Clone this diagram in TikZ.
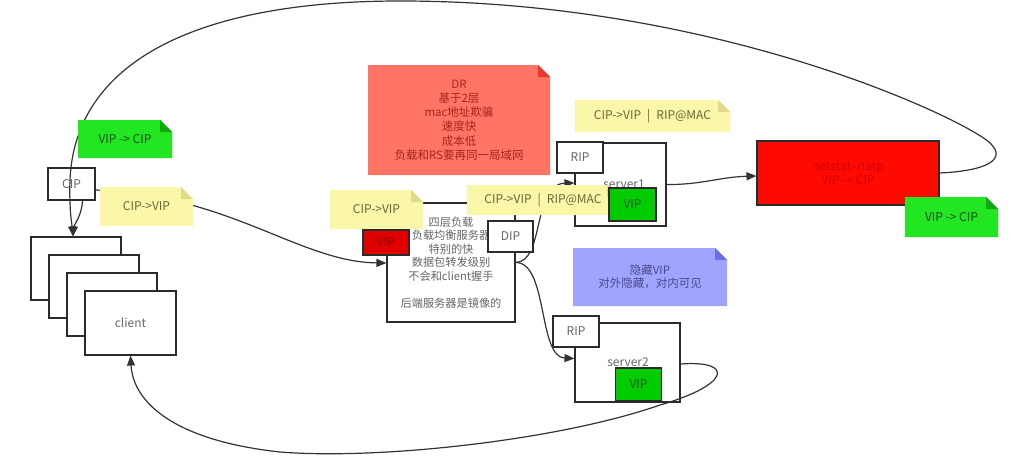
\documentclass[tikz,border=0pt]{standalone}
\usepackage{fontspec}
\setmainfont{Noto Sans CJK SC}
\usetikzlibrary{arrows.meta}

\definecolor{linecol}{HTML}{333333}
\definecolor{boxline}{HTML}{2B2B2B}
\definecolor{labelgray}{HTML}{666666}
\definecolor{notey}{HTML}{FAF8A8}
\definecolor{foldy}{HTML}{DEDA86}
\definecolor{texty}{HTML}{6A6538}
\definecolor{noteg}{HTML}{22E622}
\definecolor{foldg}{HTML}{12A812}
\definecolor{textg}{HTML}{1D4D1D}
\definecolor{drfill}{HTML}{FF7465}
\definecolor{drfold}{HTML}{E23B2C}
\definecolor{drtext}{HTML}{A4261B}
\definecolor{notep}{HTML}{A0A4FF}
\definecolor{foldp}{HTML}{6B6FE6}
\definecolor{textp}{HTML}{4A4A8A}
\definecolor{vipg}{HTML}{00CC00}
\definecolor{vipgtext}{HTML}{1A5A1A}
\definecolor{redbox}{HTML}{FF0A00}
\definecolor{redtext}{HTML}{D00000}
\definecolor{lbvip}{HTML}{E00000}
\definecolor{lbviptext}{HTML}{8A0000}

\begin{document}
\begin{tikzpicture}[x=1pt,y=-1pt,
  lbl/.style={font=\fontsize{12}{14}\selectfont},
  cjk/.style={font=\fontsize{11.5}{14.2}\selectfont},
  box/.style={lbl, draw=boxline, line width=1.1pt, fill=white, inner sep=0pt, text=labelgray},
  tag/.style={box, minimum width=46pt, minimum height=31pt},
  vip/.style={lbl, draw=boxline, line width=1.1pt, fill=vipg, text=vipgtext, inner sep=0pt,
              minimum width=46pt, minimum height=33pt},
  note/.style 2 args={lbl, inner sep=0pt, align=center, path picture={
     \fill[#1] (path picture bounding box.south west) -- (path picture bounding box.north west)
        -- ([xshift=-12pt]path picture bounding box.north east)
        -- ([yshift=-12pt]path picture bounding box.north east)
        -- (path picture bounding box.south east) -- cycle;
     \fill[#2] ([xshift=-12pt]path picture bounding box.north east)
        -- ([xshift=-12pt,yshift=-12pt]path picture bounding box.north east)
        -- ([yshift=-12pt]path picture bounding box.north east) -- cycle;}},
  ynote/.style={note={notey}{foldy}, text=texty},
  gnote/.style={note={noteg}{foldg}, text=textg},
  link/.style={draw=linecol, line width=1.2pt, -{Triangle[length=10pt,width=8pt]}}
]
\useasboundingbox (0,0) rectangle (1031,463);

% client stack
\node[box, minimum width=90pt, minimum height=63pt] (c1) at (76,268.5) {};
\node[box, minimum width=90pt, minimum height=63pt] (c2) at (94,286.5) {};
\node[box, minimum width=90pt, minimum height=63pt] (c3) at (112,304.5) {};
\node[box, minimum width=91pt, minimum height=64pt] (c4) at (130.5,323) {client};

% load balancer, real servers, connection table
\node[box, cjk, minimum width=128pt, minimum height=119pt, align=center, text=labelgray,
      font=\fontsize{11.2}{13.6}\selectfont] (lb) at (451,262.5)
      {\\[-4pt]四层负载\\负载均衡服务器\\特别的快\\数据包转发级别\\不会和client握手\\[13.6pt]后端服务器是镜像的};
\node[box, minimum width=91pt, minimum height=83pt] (s1) at (620.5,184.5) {};
\node[lbl, text=labelgray] (s1l) at (624,184) {server1};
\node[box, minimum width=105pt, minimum height=79pt] (s2) at (627.5,362.5) {};
\node[lbl, text=labelgray] (s2l) at (628,362) {server2};
\node[vip] (vip2) at (638.5,384.5) {VIP};
\node[tag] (rip2) at (576,331.5) {RIP};
\node[lbl, draw=boxline, line width=1.1pt, fill=redbox, text=redtext, align=center,
      inner sep=0pt, minimum width=182pt, minimum height=64pt] (net) at (848,173)
      {netstat -natp\\VIP -> CIP};

% CIP tag on the client side (outline only)
\node[lbl, draw=boxline, line width=1.1pt, text=labelgray, inner sep=0pt,
      minimum width=47pt, minimum height=32pt] (cip) at (71.5,184) {CIP};

% connectors
\draw[link] ([yshift=-6pt]cip.east) .. controls (230,195) and (300,262) .. ([yshift=-0.5pt]lb.west);
\draw[link] ([xshift=11pt]cip.south) .. controls (82,215) and (74,225) .. ([xshift=-3pt]c1.north);
\draw[link] (lb.east) .. controls (545,262) and (532,184) .. ([yshift=1.5pt]s1.west);
\draw[link] (lb.east) .. controls (548,262) and (538,357) .. ([yshift=4pt]s2.west);
\draw[link] (s1.east) .. controls (700,185) and (720,177) .. ([yshift=-3pt]net.west);
\draw[link] (net.east) .. controls (985,171) and (1008,160) .. (990,143)
      .. controls (966,120) and (720,1) .. (400,1)
      .. controls (200,1) and (75,60) .. (70,180)
      .. controls (69,210) and (72,225) .. ([xshift=-3pt]c1.north);
\draw[link] ([yshift=-1.5pt]s2.east) .. controls (735,360) and (730,385) .. (660,405)
      .. controls (560,440) and (380,460) .. (280,452)
      .. controls (170,440) and (133,400) .. (c4.south);

% notes and tags drawn on top
\node[ynote, minimum width=93pt, minimum height=39pt] (nl) at (146.5,206.5) {CIP->VIP};
\node[gnote, minimum width=94pt, minimum height=38pt] (gl) at (125,139) {VIP -> CIP};
\node[note={drfill}{drfold}, text=drtext, minimum width=182pt, minimum height=110pt,
      font=\fontsize{11.5}{14.2}\selectfont] (dr) at (459,120)
      {DR\\基于2层\\mac地址欺骗\\速度快\\成本低\\负载和RS要再同一局域网};
\node[ynote, minimum width=93pt, minimum height=39pt] (nm) at (376.5,209.5) {CIP->VIP};
\node[lbl, draw=boxline, line width=1.1pt, fill=lbvip, text=lbviptext, inner sep=0pt,
      minimum width=46pt, minimum height=25pt] (vipl) at (386,242.5) {VIP};
\node[tag, minimum width=45pt] (dip) at (510.5,236.5) {DIP};
\node[ynote, minimum width=152pt, minimum height=30pt] (nr) at (543,200) {CIP->VIP\enspace|\enspace RIP@MAC};
\node[tag] (rip1) at (580,157.5) {RIP};
\node[vip, minimum width=47pt] (vip1) at (632.5,204.5) {VIP};
\node[ynote, minimum width=155pt, minimum height=32pt] (nt) at (652.5,116) {CIP->VIP\enspace|\enspace RIP@MAC};
\node[gnote, minimum width=93pt, minimum height=40pt] (gr) at (951.5,217) {VIP -> CIP};
\node[note={notep}{foldp}, text=textp, minimum width=154pt, minimum height=58pt,
      font=\fontsize{11.5}{13.5}\selectfont] (hide) at (650,277)
      {隐藏VIP\\对外隐藏，对内可见};
\end{tikzpicture}
\end{document}
